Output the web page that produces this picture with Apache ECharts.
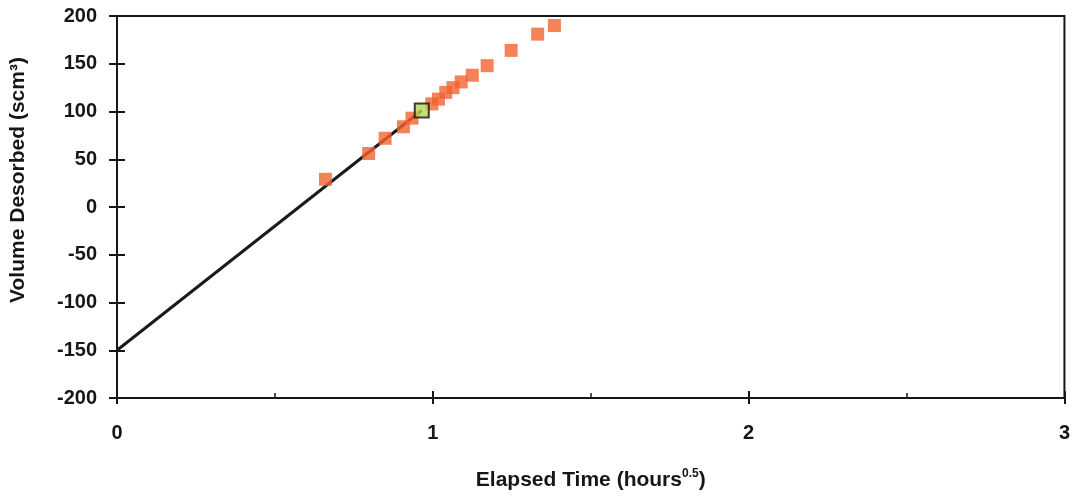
<!DOCTYPE html>
<html>
<head>
<meta charset="utf-8">
<script src="https://cdn.jsdelivr.net/npm/echarts@6/dist/echarts.min.js"></script>
<style>
  html, body { margin: 0; padding: 0; background: #fff; }
  #chart { width: 1073px; height: 496px; }
</style>
</head>
<body>
<div id="chart"></div>
<script>
// measured desorption points (sqrt time, volume)
const elapsedTime = [0.660, 0.797, 0.849, 0.907, 0.934, 0.997, 1.018, 1.041, 1.064, 1.090, 1.125, 1.172, 1.248, 1.332, 1.385];
const volumeDesorbed = [29, 56, 72, 84, 93, 108, 113, 120, 125, 131, 138, 148, 164, 181, 190];

// highlighted point (green)
const pickPoint = [0.965, 101];

// regression line, intercept at t = 0
const fitLine = [[0, -150], [0.965, 101]];

const yTicks = { min: -200, max: 200, interval: 50 };
const xTicks = { min: 0, max: 3, interval: 1 };

const font = "'Liberation Sans', Arial, sans-serif";
const ink = '#161616';

const chart = echarts.init(document.getElementById('chart'), null, { renderer: 'canvas' });

chart.setOption({
  animation: false,
  backgroundColor: '#ffffff',
  grid: {
    left: 117, right: 6, top: 16, bottom: 98,
    show: true, borderColor: ink, borderWidth: 2, backgroundColor: 'transparent'
  },
  xAxis: [
    {
      type: 'value', position: 'bottom',
      min: xTicks.min, max: xTicks.max, interval: xTicks.interval,
      axisLine: { onZero: false, lineStyle: { color: ink, width: 2 } },
      axisTick: { show: true, inside: false, length: 6, lineStyle: { color: ink, width: 2 } },
      axisLabel: { color: ink, fontFamily: font, fontWeight: 'bold', fontSize: 20, margin: 25 },
      splitLine: { show: false },
      name: '{b|Elapsed Time (hours}{s|0.5}{b|)}',
      nameLocation: 'middle', nameGap: 70,
      nameTextStyle: {
        rich: {
          b: { fontFamily: font, fontWeight: 'bold', fontSize: 21, color: ink },
          s: { fontFamily: font, fontWeight: 'bold', fontSize: 12, color: ink, verticalAlign: 'top', padding: [0, 0, 12, 0] }
        }
      }
    },
    {
      type: 'value', position: 'bottom',
      min: xTicks.min, max: xTicks.max, interval: xTicks.interval,
      axisLine: { show: false, onZero: false },
      axisTick: { show: true, inside: true, length: 7, lineStyle: { color: ink, width: 2 } },
      minorTick: { show: true, splitNumber: 2, length: 5, lineStyle: { color: ink, width: 1.5 } },
      axisLabel: { show: false },
      splitLine: { show: false }
    }
  ],
  yAxis: [
    {
      type: 'value', position: 'left',
      min: yTicks.min, max: yTicks.max, interval: yTicks.interval,
      axisLine: { show: true, onZero: false, lineStyle: { color: ink, width: 2 } },
      axisTick: { show: true, inside: false, length: 8, lineStyle: { color: ink, width: 2 } },
      axisLabel: { color: ink, fontFamily: font, fontWeight: 'bold', fontSize: 20, margin: 20 },
      splitLine: { show: false },
      name: 'Volume Desorbed (scm³)',
      nameLocation: 'middle', nameGap: 88, nameRotate: 90,
      nameTextStyle: { fontFamily: font, fontWeight: 'bold', fontSize: 21, color: ink, padding: [0, 0, 0, 54] }
    },
    {
      type: 'value', position: 'left',
      min: yTicks.min, max: yTicks.max, interval: yTicks.interval,
      axisLine: { show: false, onZero: false },
      axisTick: { show: true, inside: true, length: 8, lineStyle: { color: ink, width: 2 } },
      axisLabel: { show: false },
      splitLine: { show: false }
    }
  ],
  series: [
    {
      type: 'line',
      data: fitLine,
      symbol: 'none',
      lineStyle: { color: '#1a1a1a', width: 3 },
      z: 2
    },
    {
      type: 'scatter',
      data: elapsedTime.map((t, i) => [t, volumeDesorbed[i]]),
      symbol: 'rect', symbolSize: 13,
      itemStyle: { color: '#f2632e' },
      z: 3
    },
    {
      type: 'scatter',
      data: [pickPoint],
      symbol: 'rect', symbolSize: 14,
      itemStyle: { color: '#b6d65a', borderColor: '#111', borderWidth: 2 },
      z: 4
    }
  ]
});
</script>
</body>
</html>
